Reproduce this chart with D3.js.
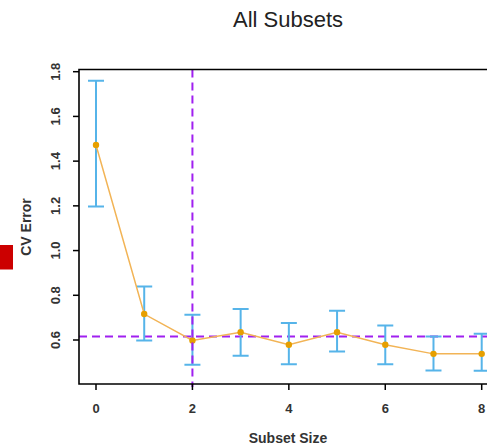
<!DOCTYPE html>
<html>
<head>
<meta charset="utf-8">
<script src="https://cdn.jsdelivr.net/npm/d3@7"></script>
<style>
  body { margin: 0; background: #fff; }
  text { font-family: "Liberation Sans", Arial, sans-serif; }
</style>
</head>
<body>
<script>
// cross-validation error for each subset size
var sizes = [0, 1, 2, 3, 4, 5, 6, 7, 8];
var cvError = [1.472, 0.716, 0.598, 0.635, 0.579, 0.635, 0.579, 0.538, 0.538];
var upper = [1.760, 0.839, 0.713, 0.739, 0.676, 0.731, 0.665, 0.616, 0.628];
var lower = [1.197, 0.598, 0.489, 0.529, 0.492, 0.549, 0.492, 0.464, 0.462];
var xTicks = [0, 2, 4, 6, 8];
var yTicks = [0.6, 0.8, 1.0, 1.2, 1.4, 1.6, 1.8];
var bestSize = 2;
var threshold = 0.616;

function draw () {
  var width = 487, height = 448;

  var svg = d3.select("body").append("svg")
    .attr("width", width)
    .attr("height", height);

  var x = d3.scaleLinear().domain([0, 8]).range([96, 481.7]);
  var y = d3.scaleLinear().domain([0.6, 1.8]).range([340, 71.7]);

  // plot box edges
  var boxL = 79, boxT = 69.5, boxB = 384, boxR = 500;

  // clip everything to the plot box
  svg.append("clipPath").attr("id", "box")
    .append("rect").attr("x", boxL).attr("y", boxT)
    .attr("width", boxR - boxL).attr("height", boxB - boxT);

  // red marker on the left
  svg.append("rect")
    .attr("x", 0).attr("y", 245)
    .attr("width", 13).attr("height", 24.5)
    .attr("fill", "#cc0000");

  var plot = svg.append("g").attr("clip-path", "url(#box)");

  // dashed reference lines
  plot.append("line")
    .attr("x1", boxL).attr("x2", boxR)
    .attr("y1", y(threshold)).attr("y2", y(threshold))
    .attr("stroke", "#a020f0").attr("stroke-width", 2)
    .attr("stroke-dasharray", "8,5");

  svg.append("line")
    .attr("x1", x(bestSize)).attr("x2", x(bestSize))
    .attr("y1", boxT).attr("y2", boxB + 3)
    .attr("stroke", "#a020f0").attr("stroke-width", 2)
    .attr("stroke-dasharray", "8,5");

  // error bars
  var bars = plot.append("g")
    .attr("stroke", "#56B4E9")
    .attr("stroke-width", 2)
    .selectAll("g")
    .data(sizes)
    .enter().append("g");

  bars.append("line")
    .attr("x1", function(d) { return x(d); })
    .attr("x2", function(d) { return x(d); })
    .attr("y1", function(d, i) { return y(upper[i]); })
    .attr("y2", function(d, i) { return y(lower[i]); });
  bars.append("line")
    .attr("x1", function(d) { return x(d) - 8; })
    .attr("x2", function(d) { return x(d) + 8; })
    .attr("y1", function(d, i) { return y(upper[i]); })
    .attr("y2", function(d, i) { return y(upper[i]); });
  bars.append("line")
    .attr("x1", function(d) { return x(d) - 8; })
    .attr("x2", function(d) { return x(d) + 8; })
    .attr("y1", function(d, i) { return y(lower[i]); })
    .attr("y2", function(d, i) { return y(lower[i]); });

  // line and points
  var line = d3.line()
    .x(function(d) { return x(d); })
    .y(function(d, i) { return y(cvError[i]); });

  plot.append("path")
    .datum(sizes)
    .attr("d", line)
    .attr("fill", "none")
    .attr("stroke", "#f2b456")
    .attr("stroke-width", 1.5);

  plot.selectAll("circle")
    .data(sizes)
    .enter().append("circle")
    .attr("cx", function(d) { return x(d); })
    .attr("cy", function(d, i) { return y(cvError[i]); })
    .attr("r", 3.2)
    .attr("fill", "#E69F00");

  // frame
  svg.append("path")
    .attr("d", "M" + boxR + "," + boxT + "H" + boxL + "V" + boxB + "H" + boxR)
    .attr("fill", "none")
    .attr("stroke", "#000")
    .attr("stroke-width", 1.6);

  // x axis ticks
  svg.append("g").selectAll("line")
    .data(xTicks).enter().append("line")
    .attr("x1", function(d) { return x(d); })
    .attr("x2", function(d) { return x(d); })
    .attr("y1", boxB).attr("y2", boxB + 6)
    .attr("stroke", "#000").attr("stroke-width", 1.5);

  svg.append("g").selectAll("text")
    .data(xTicks).enter().append("text")
    .attr("x", function(d) { return x(d); })
    .attr("y", 413)
    .attr("text-anchor", "middle")
    .attr("font-size", 13)
    .attr("font-weight", "bold")
    .attr("fill", "#333")
    .text(function(d) { return d; });

  // y axis ticks
  svg.append("g").selectAll("line")
    .data(yTicks).enter().append("line")
    .attr("x1", boxL - 6).attr("x2", boxL)
    .attr("y1", function(d) { return y(d); })
    .attr("y2", function(d) { return y(d); })
    .attr("stroke", "#000").attr("stroke-width", 1.5);

  svg.append("g").selectAll("text")
    .data(yTicks).enter().append("text")
    .attr("transform", function(d) { return "translate(60," + y(d) + ") rotate(-90)"; })
    .attr("text-anchor", "middle")
    .attr("font-size", 13)
    .attr("font-weight", "bold")
    .attr("fill", "#333")
    .text(function(d) { return d.toFixed(1); });

  // labels
  svg.append("text")
    .attr("x", 288).attr("y", 443)
    .attr("text-anchor", "middle")
    .attr("font-size", 14)
    .attr("font-weight", "bold")
    .attr("fill", "#333")
    .text("Subset Size");

  svg.append("text")
    .attr("transform", "translate(31,227) rotate(-90)")
    .attr("text-anchor", "middle")
    .attr("font-size", 14)
    .attr("font-weight", "bold")
    .attr("fill", "#333")
    .text("CV Error");

  svg.append("text")
    .attr("x", 288).attr("y", 27)
    .attr("text-anchor", "middle")
    .attr("font-size", 22)
    .attr("fill", "#222")
    .text("All Subsets");
}

draw();
</script>
</body>
</html>
